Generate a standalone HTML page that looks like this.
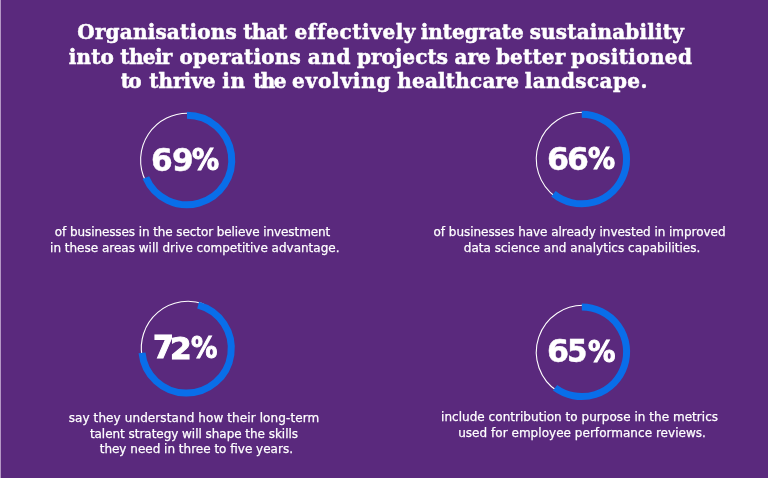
<!DOCTYPE html>
<html lang="en"><head><meta charset="utf-8"><title>Sustainability in healthcare</title>
<style>
html,body{margin:0;padding:0}
body{width:768px;height:478px;overflow:hidden;background:#5a297d;position:relative;color:#fff}
.edge{position:absolute;left:0;top:0;width:1px;height:478px;background:#b497c5}
svg{position:absolute;left:0;top:0}
.t{position:absolute;white-space:nowrap;line-height:1;margin:0;color:#fff}
.h{font:700 20px "DejaVu Serif", "Liberation Serif", serif;-webkit-text-stroke:0.5px #fff}
.b{font:400 12px "DejaVu Sans", "Liberation Sans", sans-serif;-webkit-text-stroke:0.25px #fff}
.g{transform-origin:0 0}
.n{font:700 33px "DejaVu Sans Condensed", "DejaVu Sans", "Liberation Sans", sans-serif;font-stretch:condensed;-webkit-text-stroke:0.4px #fff}
.n.p{-webkit-text-stroke:1px #fff}
</style></head>
<body>
<div class="edge"></div>
<svg width="768" height="478" viewBox="0 0 768 478">
<path d="M145.78 181.39A46.8 46.8 0 0 1 190.66 113.31" fill="none" stroke="#fff" stroke-width="1.1"/>
<path d="M187.00 115.25A44.75 44.75 0 1 1 145.87 177.63" fill="none" stroke="#096ee9" stroke-width="7.0"/>
<path d="M556.06 197.30A46.8 46.8 0 0 1 586.36 112.41" fill="none" stroke="#fff" stroke-width="1.1"/>
<path d="M581.80 114.30A44.75 44.75 0 1 1 553.46 193.68" fill="none" stroke="#096ee9" stroke-width="7.0"/>
<path d="M141.97 355.99A46.8 46.8 0 0 1 203.34 303.85" fill="none" stroke="#fff" stroke-width="1.1"/>
<path d="M198.13 305.12A44.75 44.75 0 1 1 142.02 352.79" fill="none" stroke="#096ee9" stroke-width="7.0"/>
<path d="M557.82 391.48A46.8 46.8 0 0 1 586.36 305.41" fill="none" stroke="#fff" stroke-width="1.1"/>
<path d="M581.85 307.10A44.75 44.75 0 1 1 555.11 387.73" fill="none" stroke="#096ee9" stroke-width="7.0"/>
</svg>
<div class="hl"><span class="t h" style="left:77.30px;top:20.40px;letter-spacing:0.179px">Organisations</span> <span class="t h" style="left:243.25px;top:20.40px;letter-spacing:-0.633px">that</span> <span class="t h" style="left:294.50px;top:20.40px;letter-spacing:0.575px">effectively</span> <span class="t h" style="left:420.80px;top:20.40px;letter-spacing:-0.075px">integrate</span> <span class="t h" style="left:529.70px;top:20.40px;letter-spacing:0.165px">sustainability</span></div>
<div class="hl"><span class="t h" style="left:68.80px;top:44.50px;letter-spacing:0.150px">into</span> <span class="t h" style="left:120.35px;top:44.50px;letter-spacing:-0.650px">their</span> <span class="t h" style="left:179.50px;top:44.50px;letter-spacing:0.200px">operations</span> <span class="t h" style="left:307.70px;top:44.50px;letter-spacing:0.675px">and</span> <span class="t h" style="left:356.95px;top:44.50px;letter-spacing:0.079px">projects</span> <span class="t h" style="left:454.60px;top:44.50px;letter-spacing:-0.150px">are</span> <span class="t h" style="left:495.95px;top:44.50px;letter-spacing:0.170px">better</span> <span class="t h" style="left:571.05px;top:44.50px;letter-spacing:0.361px">positioned</span></div>
<div class="hl"><span class="t h" style="left:120.65px;top:68.50px;letter-spacing:-1.650px">to</span> <span class="t h" style="left:149.15px;top:68.50px;letter-spacing:0.020px">thrive</span> <span class="t h" style="left:222.20px;top:68.50px;letter-spacing:0.800px">in</span> <span class="t h" style="left:253.15px;top:68.50px;letter-spacing:-1.550px">the</span> <span class="t h" style="left:292.00px;top:68.50px;letter-spacing:0.793px">evolving</span> <span class="t h" style="left:397.25px;top:68.50px;letter-spacing:0.200px">healthcare</span> <span class="t h" style="left:524.70px;top:68.50px;letter-spacing:0.394px">landscape.</span></div>
<div class="t b" style="left:54.87px;top:225.00px;letter-spacing:-0.092px">of businesses in the sector believe investment</div>
<div class="t b" style="left:50.05px;top:240.70px">in these areas will drive competitive advantage.</div>
<div class="t b" style="left:433.57px;top:225.00px;letter-spacing:-0.038px">of businesses have already invested in improved</div>
<div class="t b" style="left:463.76px;top:240.70px;letter-spacing:0.023px">data science and analytics capabilities.</div>
<div class="t b" style="left:68.69px;top:410.70px;letter-spacing:0.100px">say they understand how their long-term</div>
<div class="t b" style="left:89.88px;top:426.70px;letter-spacing:-0.035px">talent strategy will shape the skills</div>
<div class="t b" style="left:99.68px;top:442.40px">they need in three to five years.</div>
<div class="t b" style="left:441.05px;top:409.80px;letter-spacing:0.035px">include contribution to purpose in the metrics</div>
<div class="t b" style="left:458.19px;top:425.60px;letter-spacing:0.034px">used for employee performance reviews.</div>
<div class="num"><span class="t n g" style="left:151.12px;top:140.74px;transform:scale(1.054,0.953)">6</span><span class="t n g" style="left:171.59px;top:140.74px;transform:scale(1.048,0.953)">9</span><span class="t n g p" style="left:192.44px;top:141.09px;transform:scale(0.911,0.935)">%</span></div>
<div class="num"><span class="t n g" style="left:547.09px;top:139.74px;transform:scale(1.070,0.953)">6</span><span class="t n g" style="left:567.11px;top:139.74px;transform:scale(1.059,0.953)">6</span><span class="t n g p" style="left:588.44px;top:140.09px;transform:scale(0.911,0.935)">%</span></div>
<div class="num"><span class="t n g p" style="left:153.09px;top:329.09px;transform:scale(1.009,0.940)">7</span><span class="t n g p" style="left:170.36px;top:329.67px;transform:scale(1.051,0.922)">2</span><span class="t n g p" style="left:190.76px;top:329.78px;transform:scale(0.887,0.904)">%</span></div>
<div class="num"><span class="t n g" style="left:547.09px;top:332.79px;transform:scale(1.070,0.945)">6</span><span class="t n g" style="left:567.42px;top:332.19px;transform:scale(0.991,0.964)">5</span><span class="t n g p" style="left:587.54px;top:333.14px;transform:scale(0.922,0.927)">%</span></div>
</body></html>
